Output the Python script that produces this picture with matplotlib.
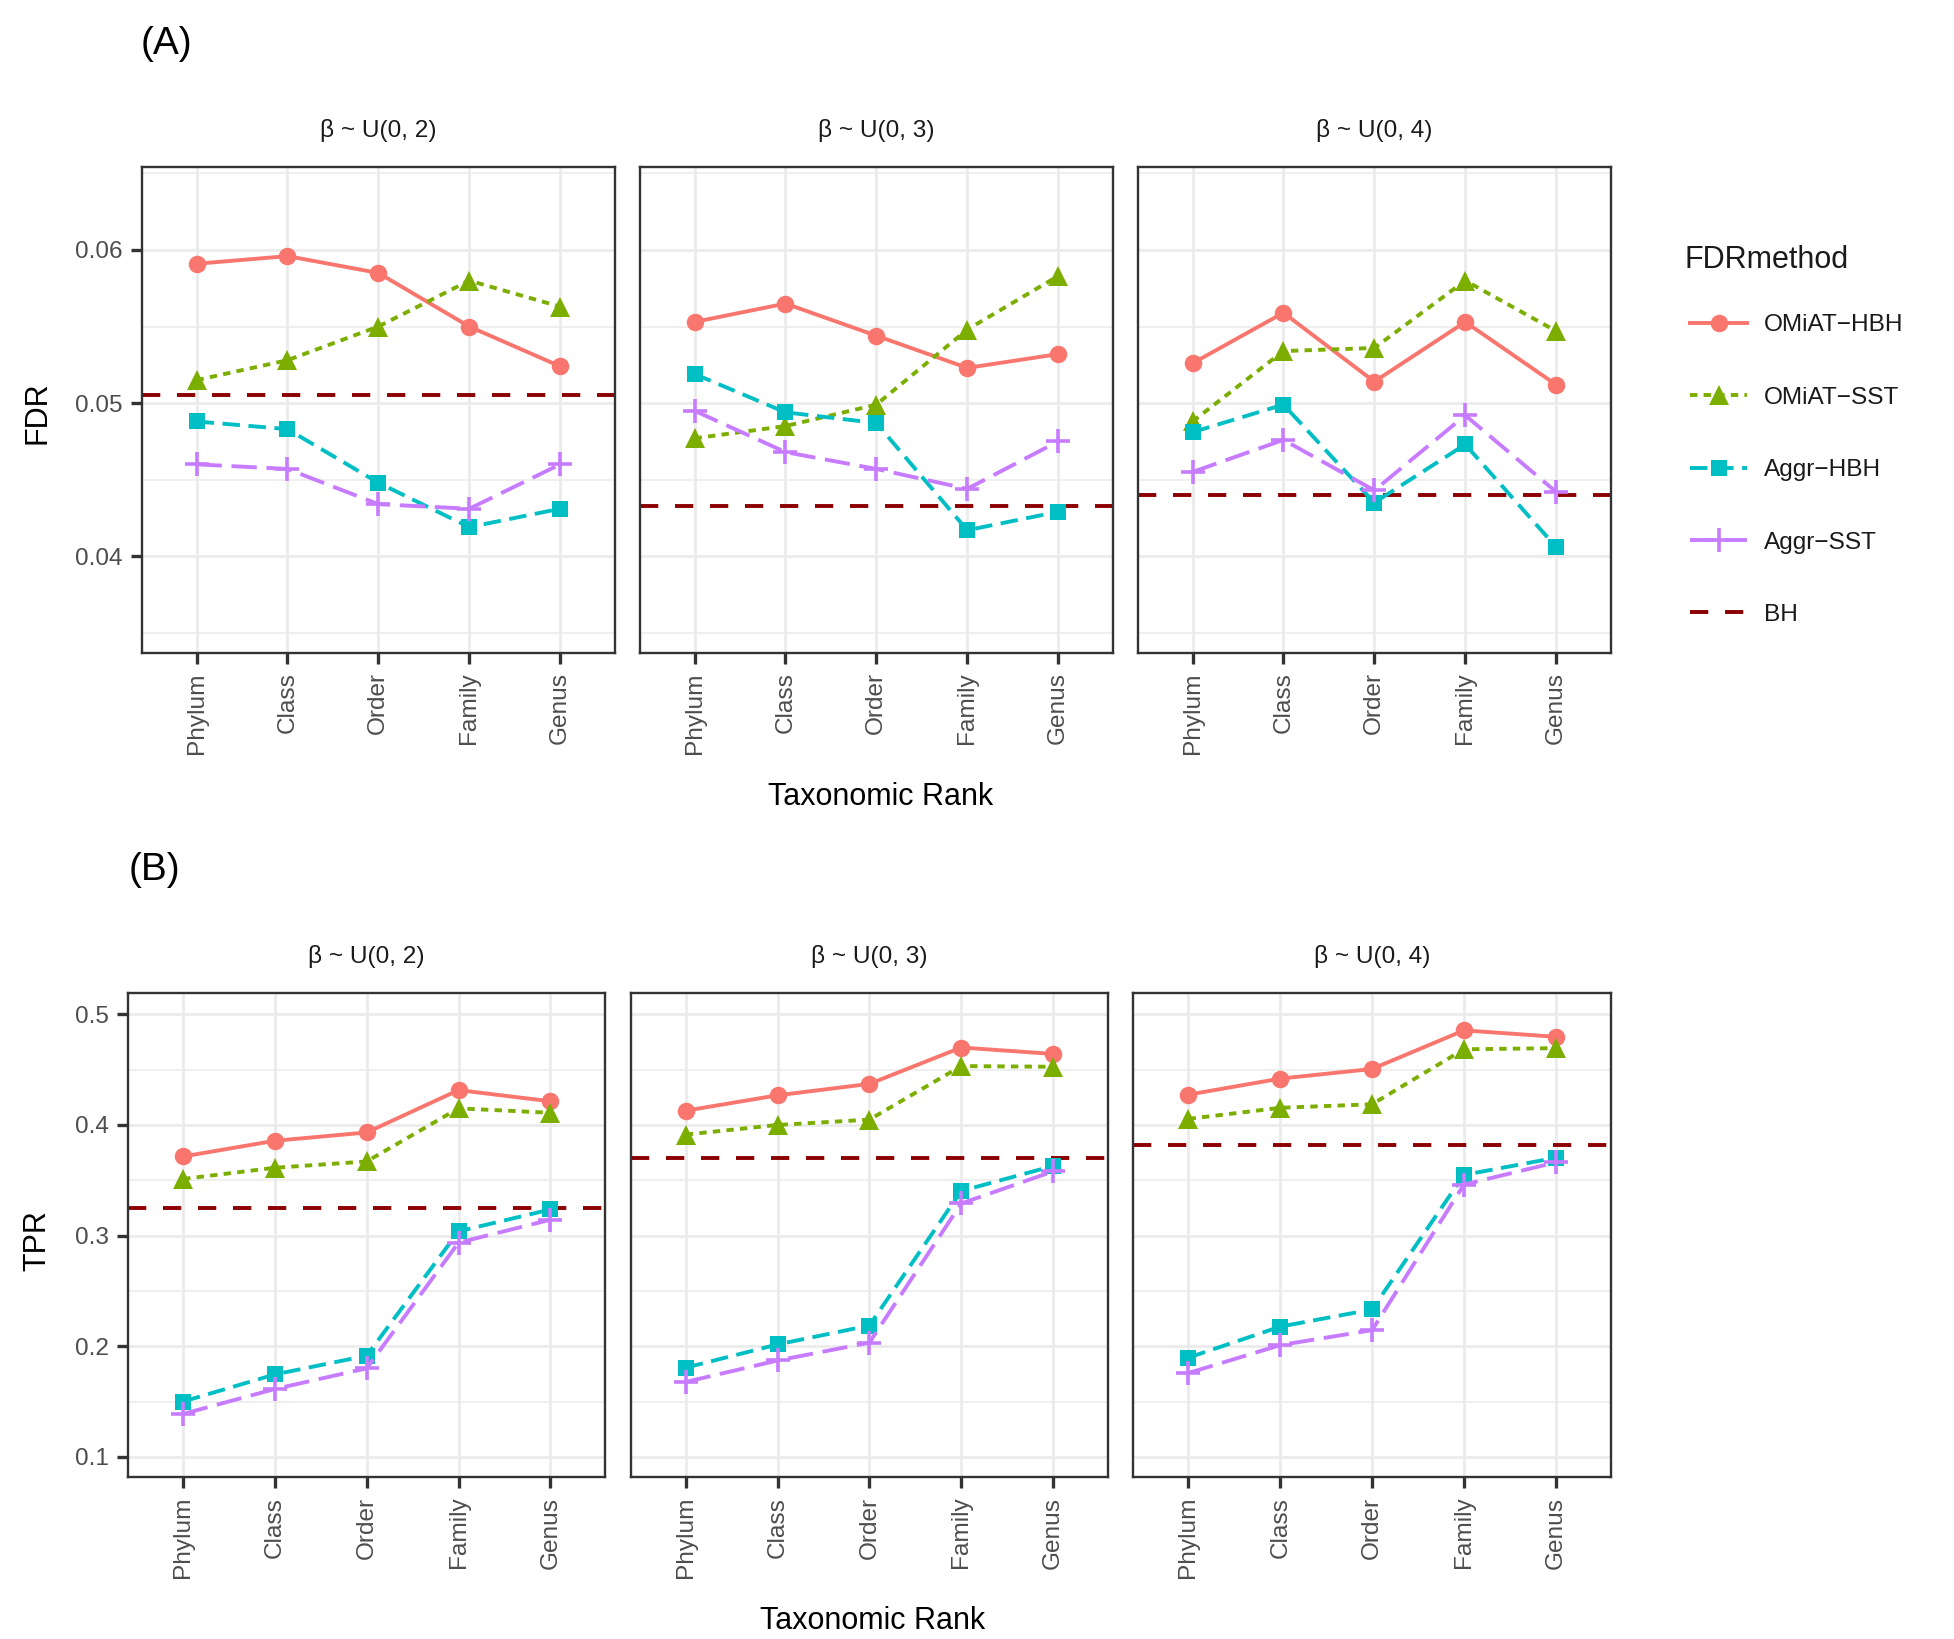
import matplotlib
matplotlib.use("Agg")
from matplotlib import pyplot as plt
from matplotlib.lines import Line2D
from matplotlib.ticker import FixedLocator

ranks = ["Phylum", "Class", "Order", "Family", "Genus"]
methods = ["OMiAT\u2212HBH", "OMiAT\u2212SST", "Aggr\u2212HBH", "Aggr\u2212SST"]
betas = ["\u03b2 ~ U(0, 2)", "\u03b2 ~ U(0, 3)", "\u03b2 ~ U(0, 4)"]

# FDR, one row per beta setting
fdr_omiat_hbh = [[0.0591, 0.0596, 0.0585, 0.0550, 0.0524],
                 [0.0553, 0.0565, 0.0544, 0.0523, 0.0532],
                 [0.0526, 0.0559, 0.0514, 0.0553, 0.0512]]
fdr_omiat_sst = [[0.0515, 0.0528, 0.0550, 0.0580, 0.0563],
                 [0.0477, 0.0485, 0.0499, 0.0548, 0.0583],
                 [0.0488, 0.0534, 0.0536, 0.0580, 0.0547]]
fdr_aggr_hbh = [[0.0488, 0.0483, 0.0448, 0.0419, 0.0431],
                [0.0519, 0.0494, 0.0487, 0.0417, 0.0429],
                [0.0481, 0.0499, 0.0435, 0.0473, 0.0406]]
fdr_aggr_sst = [[0.0460, 0.0457, 0.0434, 0.0431, 0.0460],
                [0.0495, 0.0468, 0.0457, 0.0444, 0.0475],
                [0.0455, 0.0476, 0.0443, 0.0492, 0.0442]]
fdr_bh = [0.0505, 0.0433, 0.0440]

# TPR
tpr_omiat_hbh = [[0.3715, 0.3857, 0.3932, 0.4315, 0.4214],
                 [0.4129, 0.4268, 0.4371, 0.4700, 0.4642],
                 [0.4274, 0.4419, 0.4506, 0.4855, 0.4797]]
tpr_omiat_sst = [[0.3512, 0.3613, 0.3670, 0.4150, 0.4110],
                 [0.3913, 0.4000, 0.4048, 0.4532, 0.4526],
                 [0.4055, 0.4155, 0.4187, 0.4684, 0.4694]]
tpr_aggr_hbh = [[0.1500, 0.1745, 0.1914, 0.3038, 0.3236],
                [0.1806, 0.2016, 0.2187, 0.3403, 0.3629],
                [0.1897, 0.2177, 0.2332, 0.3548, 0.3703]]
tpr_aggr_sst = [[0.1388, 0.1613, 0.1800, 0.2936, 0.3143],
                [0.1677, 0.1871, 0.2032, 0.3290, 0.3580],
                [0.1758, 0.2010, 0.2145, 0.3461, 0.3661]]
tpr_bh = [0.3246, 0.3700, 0.3819]

COLORS = ["#F8766D", "#7CAE00", "#00BFC4", "#C77CFF"]
MARKERS = ["o", "^", "s", "+"]
MSIZES = [6.3, 7.5, 6.0, 8.5]
DASHES = [None, (1.9, 1.6), (4.5, 2.2), (6.5, 2.5)]
BH_COLOR = "#8B0000"
BH_DASH = (0, (4.7, 4.3))
LW = 1.4
FONT = "Liberation Sans"


def line_style(i):
    return "-" if DASHES[i] is None else (0, DASHES[i])


def draw_panel(ax, series, bh, title, ylim, majors, minors, show_y, fmt):
    x = list(range(1, len(ranks) + 1))
    for i, values in enumerate(series):
        ax.plot(x, values, color=COLORS[i], lw=LW, ls=line_style(i),
                marker=MARKERS[i], ms=MSIZES[i],
                mew=1.3 if MARKERS[i] == "+" else 0, zorder=3)
    ax.axhline(bh, color=BH_COLOR, lw=LW, ls=BH_DASH, zorder=2.5)
    ax.set_xlim(0.4, len(ranks) + 0.6)
    ax.set_ylim(*ylim)
    ax.set_xticks(x)
    ax.set_xticklabels(ranks, rotation=90, ha="center", va="top",
                       family=FONT, fontsize=8.8, color="#4D4D4D")
    ax.yaxis.set_major_locator(FixedLocator(majors))
    ax.yaxis.set_minor_locator(FixedLocator(minors))
    ax.grid(True, which="major", color="#EBEBEB", lw=1.0, zorder=0)
    ax.grid(True, which="minor", axis="y", color="#EBEBEB", lw=0.55, zorder=0)
    ax.set_axisbelow(True)
    ax.tick_params(axis="both", which="major", length=4, width=1.2,
                   color="#333333", pad=3)
    ax.tick_params(axis="y", which="minor", length=0)
    if show_y:
        ax.set_yticklabels([fmt % v for v in majors], family=FONT,
                           fontsize=8.8, color="#4D4D4D")
    else:
        ax.tick_params(axis="y", which="major", length=0, labelleft=False)
    for spine in ax.spines.values():
        spine.set_color("#333333")
        spine.set_linewidth(0.85)
    ax.text(0.5, 1.075, title, transform=ax.transAxes, ha="center",
            va="center", fontsize=8.8, color="#1A1A1A", family=FONT)


def draw_row(fig, lefts, bottom, width, height, data, bh, ylim, majors,
             minors, fmt):
    axes = []
    for k, left in enumerate(lefts):
        ax = fig.add_axes([left, bottom, width, height])
        series = [d[k] for d in data]
        draw_panel(ax, series, bh[k], betas[k], ylim, majors, minors,
                   k == 0, fmt)
        axes.append(ax)
    return axes


def add_legend(fig):
    handles = []
    for i, name in enumerate(methods):
        handles.append(Line2D([], [], color=COLORS[i], lw=LW, ls=line_style(i),
                              marker=MARKERS[i], ms=MSIZES[i],
                              mew=1.3 if MARKERS[i] == "+" else 0, label=name))
    handles.append(Line2D([], [], color=BH_COLOR, lw=LW, ls=BH_DASH,
                          label="BH"))
    leg = fig.legend(handles=handles, loc="upper left",
                     bbox_to_anchor=(0.8649, 0.8084), frameon=False,
                     prop={"family": FONT, "size": 8.8},
                     labelspacing=2.06, handlelength=2.34, handletextpad=0.7,
                     borderpad=0, borderaxespad=0)
    for t in leg.get_texts():
        t.set_color("#1A1A1A")
    fig.text(0.8623, 0.8411, "FDRmethod", fontsize=11, family=FONT,
             color="#1A1A1A", ha="left", va="center")


def main():
    fig = plt.figure(figsize=(9.77, 8.195), dpi=200, facecolor="white")

    draw_row(fig, [0.07267, 0.32753, 0.58239], 0.60177, 0.24191, 0.29616,
             [fdr_omiat_hbh, fdr_omiat_sst, fdr_aggr_hbh, fdr_aggr_sst],
             fdr_bh, (0.0337, 0.0654), [0.04, 0.05, 0.06],
             [0.035, 0.045, 0.055, 0.065], "%.2f")
    draw_row(fig, [0.06551, 0.32277, 0.58004], 0.09866, 0.24432, 0.2953,
             [tpr_omiat_hbh, tpr_omiat_sst, tpr_aggr_hbh, tpr_aggr_sst],
             tpr_bh, (0.0815, 0.519), [0.1, 0.2, 0.3, 0.4, 0.5],
             [0.15, 0.25, 0.35, 0.45], "%.1f")

    fig.text(0.0722, 0.973, "(A)", fontsize=14, family=FONT,
             ha="left", va="center")
    fig.text(0.066, 0.469, "(B)", fontsize=14, family=FONT,
             ha="left", va="center")
    fig.text(0.4507, 0.514, "Taxonomic Rank", fontsize=11, family=FONT,
             ha="center", va="center")
    fig.text(0.4468, 0.011, "Taxonomic Rank", fontsize=11, family=FONT,
             ha="center", va="center")
    fig.text(0.0192, 0.748, "FDR", fontsize=11, family=FONT,
             rotation=90, ha="center", va="center")
    fig.text(0.0192, 0.2434, "TPR", fontsize=11, family=FONT,
             rotation=90, ha="center", va="center")

    add_legend(fig)
    fig.savefig("out.png", dpi=200, facecolor="white")


if __name__ == "__main__":
    main()
